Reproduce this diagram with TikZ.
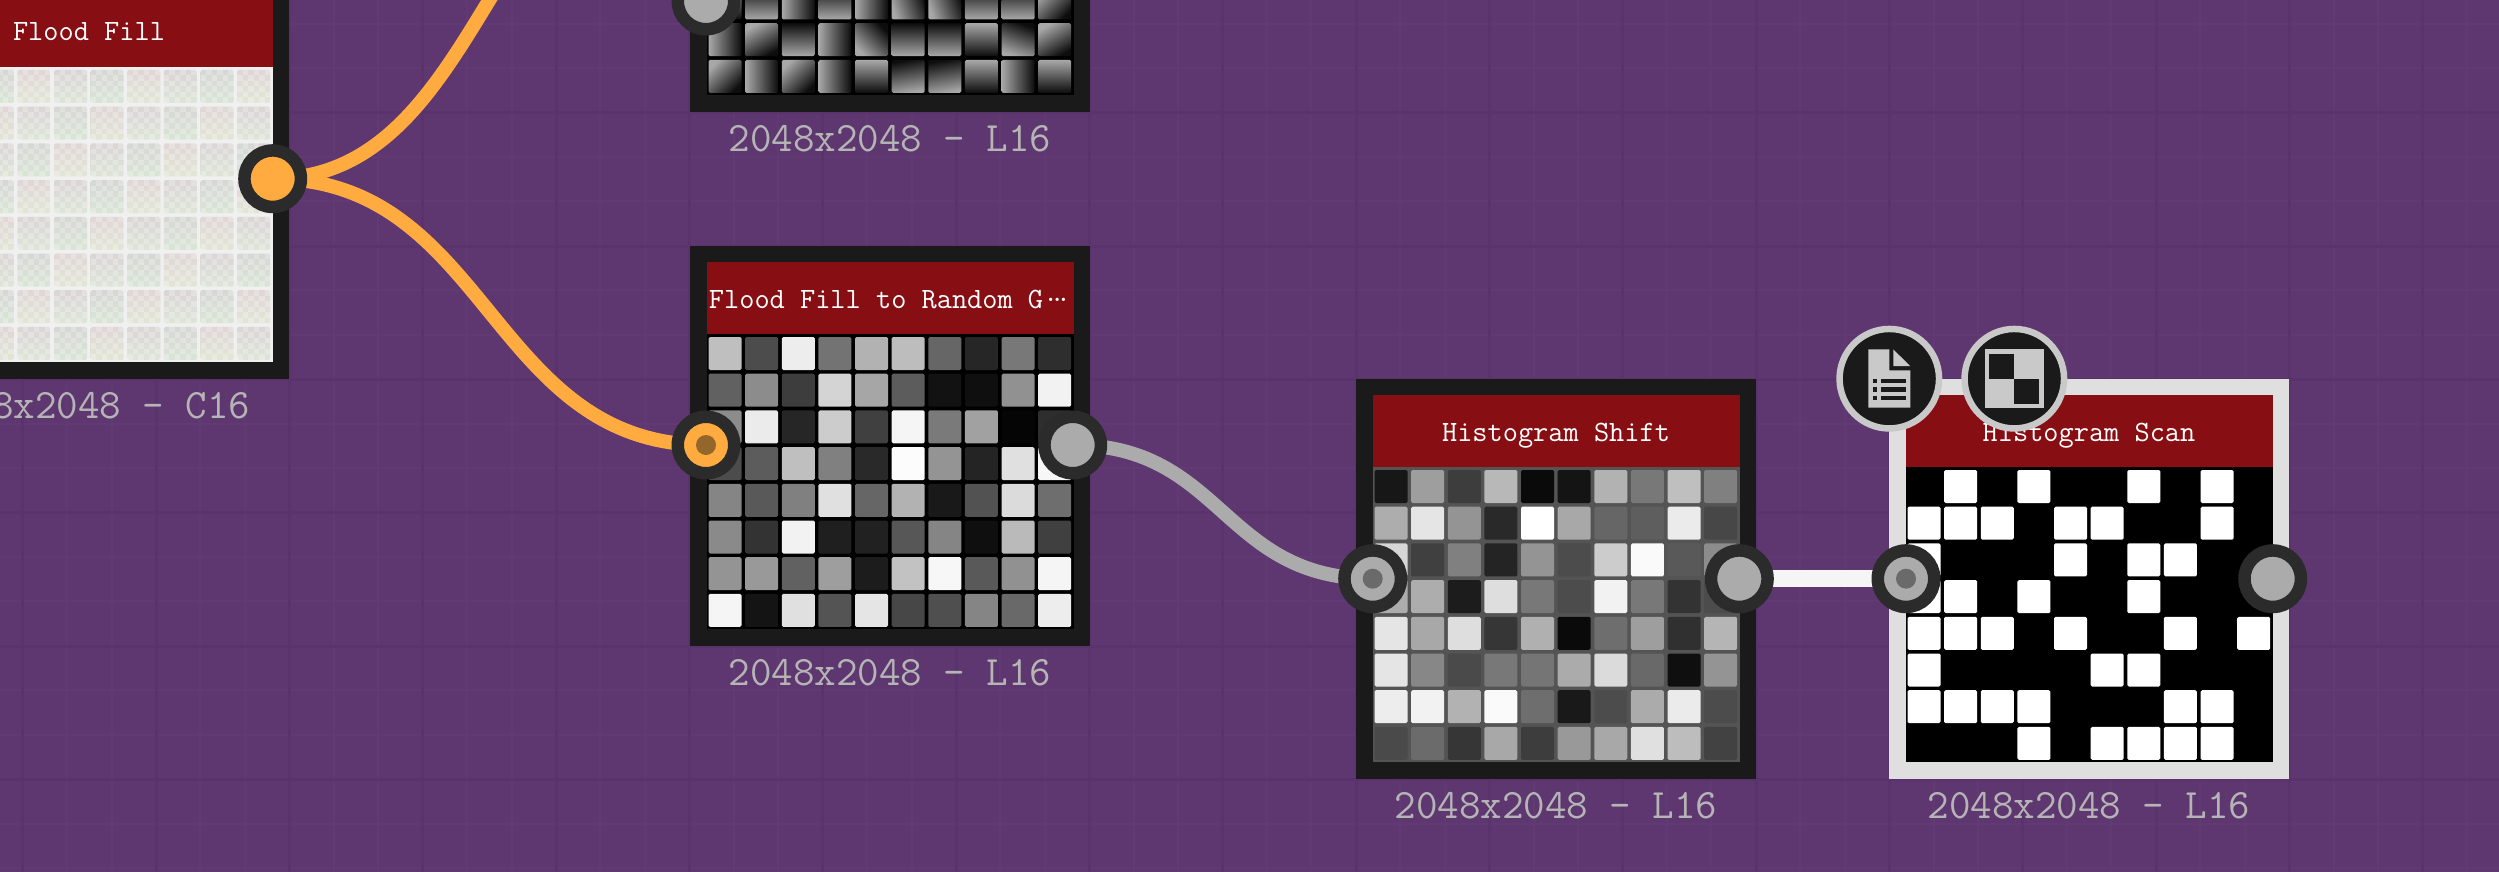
\documentclass[tikz,border=0pt]{standalone}
\usepackage{xcolor}
\usepackage{tikz}
\usetikzlibrary{
  positioning,
  backgrounds
}
\definecolor{bgpurple}{HTML}{5E3771}
\definecolor{gridmajor}{HTML}{5A336C}
\definecolor{gridminor}{HTML}{613A74}
\definecolor{framedark}{HTML}{1A1A1A}
\definecolor{frameselected}{HTML}{DFDFDF}
\definecolor{titlered}{HTML}{870F13}
\definecolor{ringdark}{HTML}{2B2B2B}
\definecolor{wireyellow}{HTML}{FFAB40}
\definecolor{wiregray}{HTML}{ABABAB}
\definecolor{wirewhite}{HTML}{F5F5F5}
\definecolor{dotyellow}{HTML}{93672B}
\definecolor{dotgray}{HTML}{6A6A6A}
\definecolor{icongray}{HTML}{C9C9C9}
\definecolor{pinktop}{HTML}{E0D6D6}
\definecolor{graytop}{HTML}{D6D7D5}
\definecolor{roseytop}{HTML}{DAD5D6}
\definecolor{yellowbot}{HTML}{E2E6D6}
\definecolor{greenbot}{HTML}{DAE5D6}
\definecolor{paleobot}{HTML}{DEE5D8}

% celulas cinza de uma imagem: (x,y) do canto da moldura e lista de linhas
\newcommand{\graycells}[3]{
  \foreach \vals [count=\r from 0] in {#3} {
    \foreach \v [count=\c from 0] in \vals {
      \fill[cell, white!\v!black] ({#1+18.5+\c*36.63},{#2+91+\r*36.7}) rectangle ++(33,33);
    }
  }
}

\begin{document}
\begin{tikzpicture}[
      x=1pt, y=-1pt,
      framebox/.style={fill=framedark, minimum size=400pt, inner sep=0pt, outer sep=0pt},
      titlebar/.style={fill=titlered, text=white, minimum width=367pt, minimum height=72pt, inner sep=0pt, outer sep=0pt, text height=20pt, text depth=0pt, font=\ttfamily\fontsize{29.5}{30}\selectfont},
      imagebox/.style={minimum width=367pt, minimum height=295pt, inner sep=0pt, outer sep=0pt},
      sizelabel/.style={text=white!71!black, inner sep=0pt, outer sep=0pt, text height=27pt, text depth=0pt, font=\ttfamily\fontsize{41.8}{42}\selectfont},
      port/.style={circle, draw=ringdark, line width=12.5pt, minimum size=56.5pt, inner sep=0pt, outer sep=0pt, fill=#1},
      portdot/.style={circle, minimum size=20pt, inner sep=0pt, outer sep=0pt, fill=#1},
      wire/.style={line width=14pt},
      cell/.style={rounded corners=1.5pt},
      iconbadge/.style={circle, draw=icongray, fill=framedark, line width=6.5pt, minimum size=99.5pt, inner sep=0pt, outer sep=0pt}
  ]
      \useasboundingbox (0,0) rectangle (2499,872);

      % Fundo e grade
      \begin{scope}[on background layer]
          \fill[bgpurple] (0,0) rectangle (2499,872);
          \foreach \k in {0,...,56} \draw[gridminor, line width=2pt] ({22.7+\k*44.44},0) -- ++(0,872);
          \foreach \k in {0,...,20} \draw[gridminor, line width=2pt] (0,{23.6+\k*44.44}) -- ++(2499,0);
          \foreach \k in {0,...,18} \draw[gridmajor, line width=3pt] ({22.7+\k*133.33},0) -- ++(0,872);
          \foreach \k in {0,...,6} \draw[gridmajor, line width=3pt] (0,{112.7+\k*133.33}) -- ++(2499,0);
      \end{scope}

      % Flood Fill
      \node[framebox] (flood) at (89,179) {};
      \node[titlebar, below=16pt of flood.north] (floodtitle) {Flood Fill};
      \node[imagebox, fill=white!94!black, below=0pt of floodtitle] (floodimg) {};
      \foreach \r in {0,...,7} {
        \foreach \c in {1,...,9} {
          \pgfmathtruncatemacro\kind{mod(\c*2+\r*5,3)}
          \ifnum\kind=0 \def\ctop{pinktop}\def\cbot{yellowbot}\fi
          \ifnum\kind=1 \def\ctop{graytop}\def\cbot{greenbot}\fi
          \ifnum\kind=2 \def\ctop{roseytop}\def\cbot{paleobot}\fi
          \shade[cell, top color=\ctop, bottom color=\cbot] ({-92.5+\c*36.63},{70+\r*36.7}) rectangle ++(33,33);
          \foreach \i in {0,...,5} {
            \foreach \j in {0,...,5} {
              \ifodd\numexpr\i+\j\relax
                \fill[white, opacity=0.25] ({-92.5+\c*36.63+\i*5.5},{70+\r*36.7+\j*5.5}) rectangle ++(5.5,5.5);
              \fi
            }
          }
        }
      }
      \node[sizelabel, below=12pt of flood.south] (floodsize) {2048x2048 – C16};

      % Imagem de cima, degrades
      \node[framebox] (ramp) at (890,-88) {};
      \node[imagebox, fill=black, above=17pt of ramp.south] (rampimg) {};
      \foreach \vals [count=\r from 5] in {
          {0,180,90,180,90,110,110,180,180,45},
          {90,30,180,90,135,180,180,0,160,30},
          {45,90,45,90,0,190,190,0,90,0}} {
        \foreach \ang [count=\c from 0] in \vals {
          \shade[cell, top color=white!66!black, bottom color=white!5!black, shading angle=\ang]
              ({708.5+\c*36.63},{-197+\r*36.7}) rectangle ++(33,33);
        }
      }
      \node[sizelabel, below=12pt of ramp.south] (rampsize) {2048x2048 – L16};

      % Flood Fill to Random Grey
      \node[framebox] (randgray) at (890,446) {};
      \node[titlebar, below=16pt of randgray.north] (randgraytitle) {Flood Fill to Random G\raisebox{0.22em}{.\kern-0.3em.\kern-0.3em.}};
      \node[imagebox, fill=black, below=0pt of randgraytitle] (randgrayimg) {};
      \graycells{690}{246}{
          {75,30,93,45,70,74,40,15,47,18},
          {38,55,24,83,65,36,7,6,57,95},
          {55,92,15,80,25,96,48,63,2,18},
          {30,36,75,50,16,99,58,14,88,97},
          {52,35,50,88,40,70,10,32,86,43},
          {54,20,95,12,13,34,52,6,73,25},
          {58,60,38,62,11,76,97,35,57,96},
          {96,8,88,33,90,28,31,52,41,93}}
      \node[sizelabel, below=12pt of randgray.south] (randgraysize) {2048x2048 – L16};

      % Histogram Shift
      \node[framebox] (shift) at (1556,579) {};
      \node[titlebar, below=16pt of shift.north] (shifttitle) {Histogram Shift};
      \node[imagebox, fill=white!33!black, below=0pt of shifttitle] (shiftimg) {};
      \graycells{1356}{379}{
          {9,62,24,72,4,8,70,47,75,50},
          {68,90,58,16,100,66,40,37,92,28},
          {84,25,50,14,58,30,80,98,35,55},
          {68,68,11,87,47,30,95,47,20,30},
          {90,66,87,21,69,4,43,62,19,71},
          {90,53,29,47,46,67,86,41,6,58},
          {93,95,70,98,43,10,30,67,92,30},
          {29,42,21,66,24,60,66,88,74,26}}
      \node[sizelabel, below=12pt of shift.south] (shiftsize) {2048x2048 – L16};

      % Histogram Scan
      \node[framebox, fill=frameselected] (scan) at (2089,579) {};
      \node[titlebar, below=16pt of scan.north] (scantitle) {Histogram Scan};
      \node[imagebox, fill=black, below=0pt of scantitle] (scanimg) {};
      \graycells{1889}{379}{
          {0,100,0,100,0,0,100,0,100,0},
          {100,100,100,0,100,100,0,0,100,0},
          {100,0,0,0,100,0,100,100,0,0},
          {100,100,0,100,0,0,100,0,0,0},
          {100,100,100,0,100,0,0,100,0,100},
          {100,0,0,0,0,100,100,0,0,0},
          {100,100,100,100,0,0,0,100,100,0},
          {0,0,0,100,0,100,100,100,100,0}}
      \node[sizelabel, below=12pt of scan.south] (scansize) {2048x2048 – L16};

      % Portas
      \node[port=wireyellow] (floodout) at (272.7,178.7) {};
      \coordinate (rampinup) at (706,-178.7);
      \node[port=wiregray] (rampindown) at (706,1) {};
      \node[port=wireyellow] (randgrayin) at (706,445) {};
      \node[portdot=dotyellow] (randgraydot) at (randgrayin.center) {};
      \node[port=wiregray] (randgrayout) at (1072.7,445) {};
      \node[port=wiregray] (shiftin) at (1372.7,578.7) {};
      \node[portdot=dotgray] (shiftdot) at (shiftin.center) {};
      \node[port=wiregray] (shiftout) at (1739.3,578.7) {};
      \node[port=wiregray] (scanin) at (1906,578.7) {};
      \node[portdot=dotgray] (scandot) at (scanin.center) {};
      \node[port=wiregray] (scanout) at (2272.7,578.7) {};

      % Fios
      \begin{scope}[on background layer]
          \draw[wire, wireyellow] (floodout.center) .. controls +(216,0) and +(-216,0) .. (rampinup);
          \draw[wire, wireyellow] (floodout.center) .. controls +(216,0) and +(-216,0) .. (randgrayin.center);
          \draw[wire, wiregray] (randgrayout.center) .. controls +(150,0) and +(-150,0) .. (shiftin.center);
          \draw[line width=17pt, wirewhite] (shiftout.center) -- (scanin.center);
      \end{scope}

      % Icones
      \node[iconbadge] (docbadge) at (1889.3,378.7) {};
      \begin{scope}[shift={(docbadge.center)}]
          \fill[icongray] (-21,-29.3) -- (0,-29.3) -- (0,-8.3) -- (21,-8.3) -- (21,29) -- (-21,29) -- cycle;
          \fill[icongray] (4,-29.3) -- (21,-12.5) -- (4,-12.5) -- cycle;
          \foreach \s in {0,1,2} {
            \fill[framedark] (-16.7,{0.3+\s*8.3}) rectangle ++(4.7,4.2);
            \fill[framedark] (-8,{0.3+\s*8.3}) rectangle ++(24.7,4.2);
          }
      \end{scope}
      \node[iconbadge] (checkbadge) at (2014.3,378.7) {};
      \begin{scope}[shift={(checkbadge.center)}]
          \fill[icongray] (-29,-29.3) rectangle (29.3,29);
          \fill[framedark] (-25,-25) rectangle (0,0);
          \fill[framedark] (0,0) rectangle (25,25);
      \end{scope}

  \end{tikzpicture}
\end{document}
